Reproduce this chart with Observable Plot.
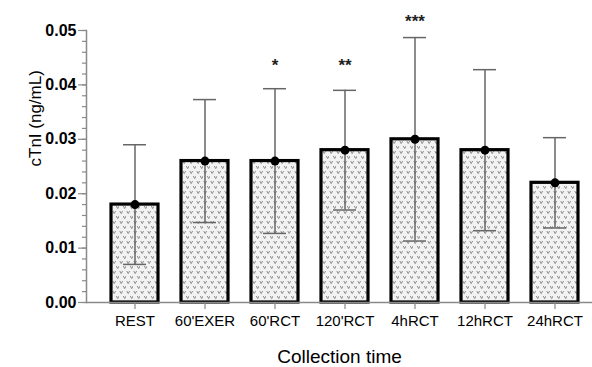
<!DOCTYPE html>
<html>
<head>
<meta charset="utf-8">
<script src="https://cdn.jsdelivr.net/npm/d3@7"></script>
<script src="https://cdn.jsdelivr.net/npm/@observablehq/plot@0.6"></script>
<style>
  html, body { margin: 0; padding: 0; background: #fff; }
  svg { display: block; }
</style>
</head>
<body>
<div id="chart"></div>
<script>
const categories = ["REST", "60'EXER", "60'RCT", "120'RCT", "4hRCT", "12hRCT", "24hRCT"];
const means = [0.018, 0.026, 0.026, 0.028, 0.030, 0.028, 0.022];
const sds = [0.011, 0.0113, 0.0133, 0.011, 0.0187, 0.0148, 0.0083];
const starLabels = ["", "", "*", "**", "***", "", ""];
const starY = [null, null, 0.0443, 0.0443, 0.0524, null, null];
const yTicks = [0, 0.01, 0.02, 0.03, 0.04, 0.05];
const yMinorTicks = d3.range(0, 51, 2).map(v => v / 1000);
const yLabel = "cTnI (ng/mL)";
const xLabel = "Collection time";

const data = categories.map((c, i) => ({
  cat: c, mean: means[i], lo: means[i] - sds[i], hi: means[i] + sds[i],
  star: starLabels[i], sy: starY[i]
}));
const stars = data.filter(d => d.star);

const patternDefs = () => {
  const ns = "http://www.w3.org/2000/svg";
  const defs = document.createElementNS(ns, "defs");
  defs.innerHTML = `
    <pattern id="vdots" patternUnits="userSpaceOnUse" width="7" height="10">
      <rect width="7" height="10" fill="#f2f2f2"/>
      <path d="M0.8,1 L2.2,3.6 L3.6,1 M4.3,6 L5.7,8.6 L7.1,6" fill="none" stroke="#8c8c8c" stroke-width="1"/>
    </pattern>`;
  return defs;
};

const chart = Plot.plot({
  width: 592,
  height: 367,
  marginLeft: 86,
  marginRight: 0,
  marginTop: 30,
  marginBottom: 65,
  style: { fontFamily: "'Liberation Sans', Arial, sans-serif", background: "#fff", overflow: "visible" },
  x: { domain: categories, range: [86, 602], paddingInner: 0.33, paddingOuter: 0.342, axis: null },
  y: { domain: [0, 0.05], axis: null },
  marks: [
    patternDefs,
    Plot.barY(data, { x: "cat", y: "mean", fill: "url(#vdots)", stroke: "black", strokeWidth: 3.2 }),
    Plot.ruleX(data, { x: "cat", y1: "lo", y2: "hi", stroke: "#666", strokeWidth: 1.5 }),
    Plot.tickY(data, { x: "cat", y: "hi", stroke: "#666", strokeWidth: 1.5, insetLeft: 12, insetRight: 12 }),
    Plot.tickY(data, { x: "cat", y: "lo", stroke: "#666", strokeWidth: 1.5, insetLeft: 12, insetRight: 12 }),
    Plot.dot(data, { x: "cat", y: "mean", r: 4.5, fill: "black" }),
    Plot.text(stars, { x: "cat", y: "sy", text: "star", fontSize: 17, fontWeight: "bold", lineAnchor: "middle", dy: 4, fill: "#222" }),
    Plot.ruleY([0], { stroke: "#8a8a8a", strokeWidth: 1.5 }),
    Plot.frame({ anchor: "left", stroke: "#8a8a8a", strokeWidth: 1.5 }),
    Plot.axisY({ ticks: yMinorTicks, tickSize: 4, tickFormat: () => "", stroke: "#8a8a8a", strokeWidth: 1.2, label: null }),
    Plot.axisY({ ticks: yTicks, tickSize: 8, tickPadding: 2, tickFormat: d => d.toFixed(2), stroke: "#8a8a8a", strokeWidth: 1.2, fontSize: 16, fontWeight: "bold", fill: "black", label: null }),
    Plot.axisX({ tickSize: 7, tickPadding: 6, fontSize: 15, stroke: "#8a8a8a", strokeWidth: 1.2, fill: "black", label: null }),
    Plot.text([yLabel], { frameAnchor: "left", dx: -51, rotate: -90, text: d => d, fontSize: 17, fill: "black" }),
    Plot.text([xLabel], { frameAnchor: "bottom", dy: 54, text: d => d, fontSize: 19, fill: "black", lineAnchor: "middle" })
  ]
});
document.getElementById("chart").appendChild(chart);
</script>
</body>
</html>
